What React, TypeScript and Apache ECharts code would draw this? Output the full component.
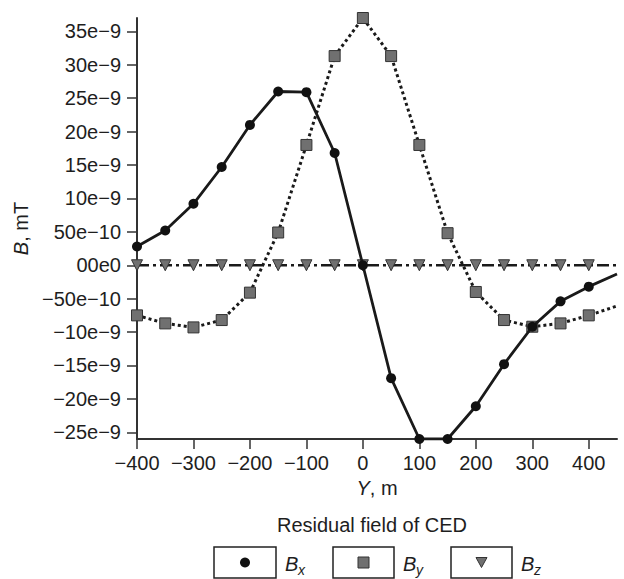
import React, { useEffect, useRef } from "react";
import * as echarts from "echarts";

const positions = [-400, -350, -300, -250, -200, -150, -100, -50, 0, 50, 100, 150, 200, 250, 300, 350, 400, 450];
const bxValues = [2.8e-9, 5.2e-9, 9.2e-9, 14.7e-9, 21.0e-9, 26.0e-9, 25.9e-9, 16.8e-9, 0, -16.9e-9, -26.0e-9, -26.0e-9, -21.1e-9, -14.8e-9, -9.2e-9, -5.4e-9, -3.2e-9, -1.3e-9];
const byValues = [-7.5e-9, -8.7e-9, -9.3e-9, -8.2e-9, -4.1e-9, 4.9e-9, 18.0e-9, 31.3e-9, 37.0e-9, 31.3e-9, 18.0e-9, 4.8e-9, -4.0e-9, -8.2e-9, -9.2e-9, -8.7e-9, -7.5e-9, -6.1e-9];
const bzValues = [0, 0, 0, 0, 0, 0, 0, 0, 0, 0, 0, 0, 0, 0, 0, 0, 0, 0];

const xTickValues = [-400, -300, -200, -100, 0, 100, 200, 300, 400];
const yTickValues = [-25e-9, -20e-9, -15e-9, -10e-9, -5e-9, 0, 5e-9, 10e-9, 15e-9, 20e-9, 25e-9, 30e-9, 35e-9];
const yTickLabels = ["\u221225e\u22129", "\u221220e\u22129", "\u221215e\u22129", "\u221210e\u22129", "\u221250e\u221210", "00e0", "50e\u221210", "10e\u22129", "15e\u22129", "20e\u22129", "25e\u22129", "30e\u22129", "35e\u22129"];

const FONT = '"Liberation Sans", Arial, Helvetica, sans-serif';
const TEXT = "#1e1e1e";
const AXIS = "#333";

function toData(vals: number[]) {
  return positions.map((p, i) =>
    p > 400 ? { value: [p, vals[i]], symbol: "none" } : { value: [p, vals[i]] }
  );
}

export default function App() {
  const ref = useRef<HTMLDivElement>(null);
  useEffect(() => {
    if (!ref.current) return;
    const chart = echarts.init(ref.current, null, { renderer: "svg" });
    const legendY = 547;
    const legendH = 31;
    const cy = legendY + legendH / 2;
    const boxes = [
      { x: 214, w: 62, sub: "x" },
      { x: 333, w: 61, sub: "y" },
      { x: 451, w: 61, sub: "z" },
    ];
    const graphic: any[] = [
      {
        type: "text",
        style: {
          text: "Residual field of CED",
          x: 372,
          y: 525,
          font: `20px ${FONT}`,
          fill: TEXT,
          textAlign: "center",
          textVerticalAlign: "middle",
        },
      },
    ];
    boxes.forEach((b) => {
      graphic.push({
        type: "rect",
        shape: { x: b.x, y: legendY, width: b.w, height: legendH },
        style: { fill: "#fff", stroke: "#222", lineWidth: 1.5 },
      });
      graphic.push({
        type: "text",
        style: {
          text: "B",
          x: b.x + b.w + 9,
          y: cy + 1,
          font: `italic 20px ${FONT}`,
          fill: TEXT,
          textAlign: "left",
          textVerticalAlign: "middle",
        },
      });
      graphic.push({
        type: "text",
        style: {
          text: b.sub,
          x: b.x + b.w + 22,
          y: cy + 14,
          font: `italic 14px ${FONT}`,
          fill: TEXT,
          textAlign: "left",
          textVerticalAlign: "bottom",
        },
      });
    });
    const c1 = 214 + 31;
    const c2 = 333 + 30.5;
    const c3 = 451 + 30.5;
    graphic.push({
      type: "circle",
      shape: { cx: c1, cy, r: 5 },
      style: { fill: "#111" },
    });
    graphic.push({
      type: "rect",
      shape: { x: c2 - 5.5, y: cy - 5.5, width: 11, height: 11 },
      style: { fill: "#707070", stroke: "#333", lineWidth: 1 },
    });
    graphic.push({
      type: "polygon",
      shape: { points: [[c3 - 5.5, cy - 5], [c3 + 5.5, cy - 5], [c3, cy + 5]] },
      style: { fill: "#707070", stroke: "#333", lineWidth: 1 },
    });

    chart.setOption({
      animation: false,
      backgroundColor: "#fff",
      grid: { left: 137, right: 7, top: 18, bottom: 140 },
      xAxis: {
        type: "value",
        min: -400,
        max: 450,
        interval: 100,
        name: "{i|Y}{n|, m}",
        nameLocation: "middle",
        nameGap: 33,
        nameTextStyle: {
          rich: {
            i: { fontStyle: "italic", fontSize: 20, fontFamily: FONT, color: TEXT },
            n: { fontSize: 20, fontFamily: FONT, color: TEXT },
          },
        },
        axisLine: { show: true, onZero: false, lineStyle: { color: AXIS, width: 2 } },
        axisTick: { show: true, length: 10, customValues: xTickValues, lineStyle: { color: AXIS, width: 1.5 } },
        axisLabel: {
          customValues: xTickValues,
          margin: 14,
          fontSize: 20,
          fontFamily: FONT,
          color: TEXT,
          formatter: (v: number) => String(v).replace("-", "\u2212"),
        },
        splitLine: { show: false },
      },
      yAxis: {
        type: "value",
        min: -26e-9,
        max: 37e-9,
        name: "{i|B}{n|, mT}",
        nameLocation: "middle",
        nameGap: 100,
        nameRotate: 90,
        nameTextStyle: {
          rich: {
            i: { fontStyle: "italic", fontSize: 20, fontFamily: FONT, color: TEXT },
            n: { fontSize: 20, fontFamily: FONT, color: TEXT },
          },
        },
        axisLine: { show: true, onZero: false, lineStyle: { color: AXIS, width: 2 } },
        axisTick: { show: true, length: 10, customValues: yTickValues, lineStyle: { color: AXIS, width: 1.5 } },
        axisLabel: {
          customValues: yTickValues,
          margin: 16,
          fontSize: 20,
          fontFamily: FONT,
          color: TEXT,
          formatter: (v: number) => {
            let best = 0;
            let d = Infinity;
            yTickValues.forEach((t, i) => {
              const dd = Math.abs(t - v);
              if (dd < d) {
                d = dd;
                best = i;
              }
            });
            return yTickLabels[best];
          },
        },
        splitLine: { show: false },
      },
      series: [
        {
          name: "By",
          type: "line",
          data: toData(byValues),
          symbol: "rect",
          symbolSize: 11,
          itemStyle: { color: "#707070", borderColor: "#333", borderWidth: 1 },
          lineStyle: { color: "#1a1a1a", width: 3, type: [3, 3] },
          z: 2,
        },
        {
          name: "Bz",
          type: "line",
          data: toData(bzValues),
          symbol: "triangle",
          symbolRotate: 180,
          symbolSize: 11,
          itemStyle: { color: "#707070", borderColor: "#333", borderWidth: 1 },
          lineStyle: { color: "#1a1a1a", width: 2.5, type: [12, 4, 3, 4] },
          z: 3,
        },
        {
          name: "Bx",
          type: "line",
          data: toData(bxValues),
          symbol: "circle",
          symbolSize: 10,
          itemStyle: { color: "#111" },
          lineStyle: { color: "#1a1a1a", width: 2.8 },
          z: 4,
        },
      ],
      graphic,
    });
    return () => chart.dispose();
  }, []);
  return (
    <div
      ref={ref}
      style={{ position: "fixed", left: 0, top: 0, width: 624, height: 579 }}
    />
  );
}
